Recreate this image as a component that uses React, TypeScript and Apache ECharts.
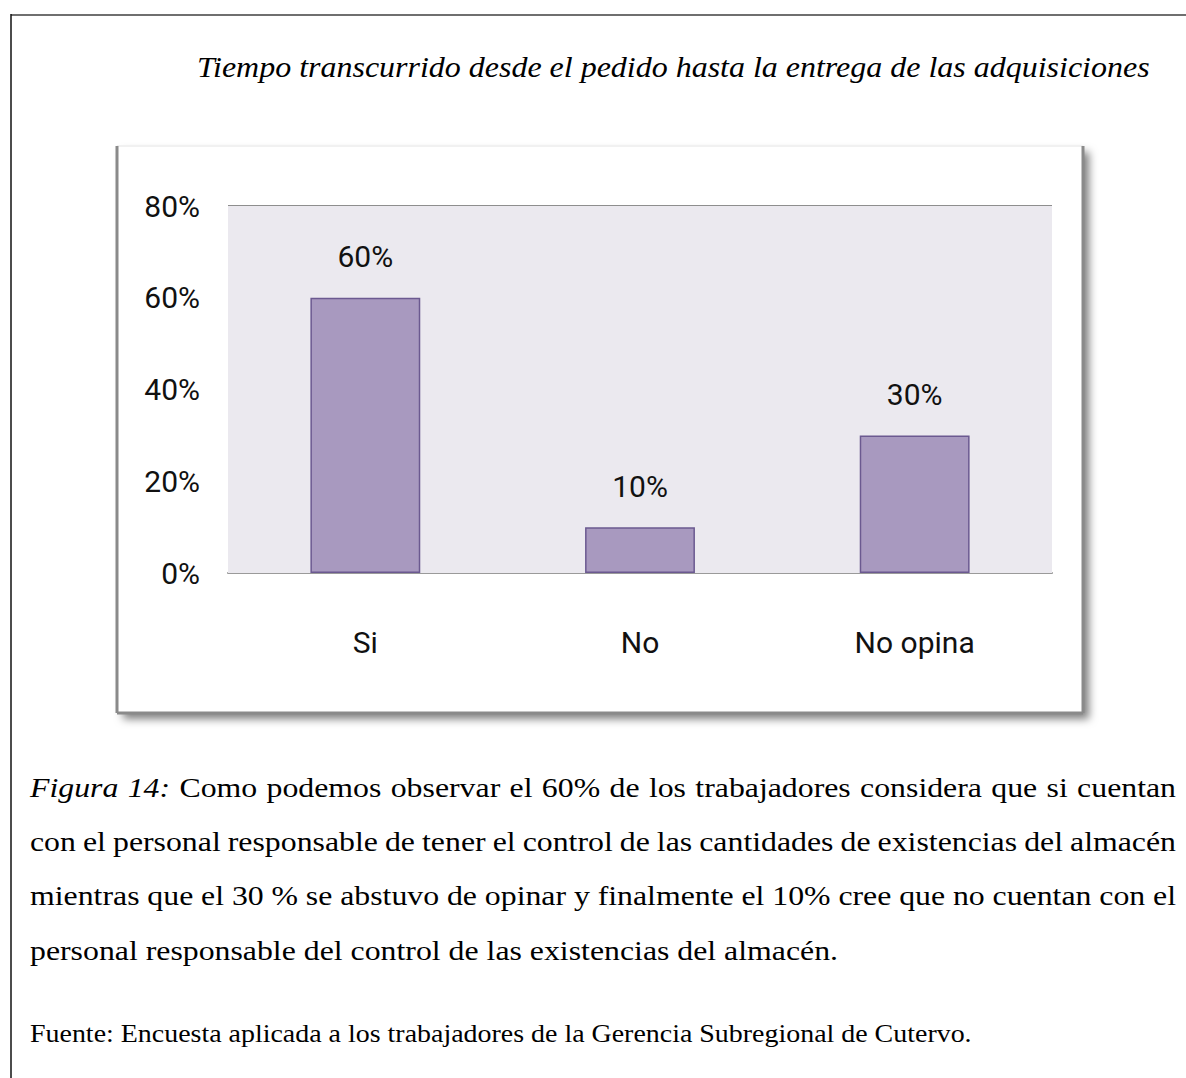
import React, { useEffect, useRef } from "react";
import * as echarts from "echarts";

const categories = ["Si", "No", "No opina"];
const values = [0.6, 0.1, 0.3];
const yMin = 0;
const yMax = 0.8;
const yInterval = 0.2;

const titleText = "Tiempo transcurrido desde el pedido hasta la entrega de las adquisiciones";
const captionLines: { text: string; italic?: boolean }[][] = [
  [
    { text: "Figura", italic: true },
    { text: "14:", italic: true },
    ...("Como podemos observar el 60% de los trabajadores considera que si cuentan".split(" ").map((t) => ({ text: t }))),
  ],
  "con el personal responsable de tener el control de las cantidades de existencias del almacén".split(" ").map((t) => ({ text: t })),
  "mientras que el 30 % se abstuvo de opinar y finalmente el 10% cree que no cuentan con el".split(" ").map((t) => ({ text: t })),
  "personal responsable del control de las existencias del almacén.".split(" ").map((t) => ({ text: t })),
];
const sourceText = "Fuente: Encuesta aplicada a los trabajadores de la Gerencia Subregional de Cutervo.";

const SERIF = '"Liberation Serif", "Times New Roman", serif';
const SANS = 'Roboto, "DejaVu Sans Condensed", sans-serif';

export default function App() {
  const ref = useRef<HTMLDivElement>(null);
  useEffect(() => {
    if (!ref.current) return;
    const chart = echarts.init(ref.current, undefined, { renderer: "svg" });

    const canvas = document.createElement("canvas");
    const ctx = canvas.getContext("2d")!;
    const measure = (t: string, size: number, it?: boolean) => {
      ctx.font = `${it ? "italic " : ""}${size}px ${SERIF}`;
      return ctx.measureText(t).width;
    };

    // caption (justified, word by word)
    const capSize = 27;
    const capLeft = 30;
    const capRight = 1176;
    const lastLineTarget = 808;
    const lastLine = captionLines[captionLines.length - 1].map((w) => w.text).join(" ");
    const capScale = lastLineTarget / measure(lastLine, capSize);
    const spaceW = measure(" ", capSize) * capScale;
    const capBottoms = [801, 855, 909, 964];
    const capEls: any[] = [];
    captionLines.forEach((words, li) => {
      const widths = words.map((w) => measure(w.text, capSize, w.italic) * capScale);
      const sum = widths.reduce((a, b) => a + b, 0);
      const justify = li < captionLines.length - 1;
      const gap = justify ? (capRight - capLeft - sum) / (words.length - 1) : spaceW;
      let x = capLeft;
      words.forEach((w, i) => {
        capEls.push({
          type: "text",
          x,
          y: capBottoms[li],
          scaleX: capScale,
          z: 10,
          style: {
            text: w.text,
            fontSize: capSize,
            fontFamily: SERIF,
            fontStyle: w.italic ? "italic" : "normal",
            fill: "#000",
            verticalAlign: "bottom",
            align: "left",
          },
        });
        x += widths[i] + gap;
      });
    });

    const titleSize = 29;
    const titleScale = 953 / measure(titleText, titleSize, true);
    const srcSize = 25;
    const srcScale = 942 / measure(sourceText, srcSize);

    const boxL = 117, boxT = 146, boxR = 1083, boxB = 713;

    chart.setOption({
      animation: false,
      backgroundColor: "#ffffff",
      grid: {
        left: 228,
        right: 1186 - 1052,
        top: 206,
        bottom: 1078 - 573,
        show: true,
        backgroundColor: "#EBE9EF",
        borderWidth: 0,
        z: 2,
      },
      xAxis: {
        type: "category",
        data: categories,
        axisLine: { show: true, lineStyle: { color: "#9a9a9a", width: 2 } },
        axisTick: { show: false },
        axisLabel: { margin: 54, fontSize: 30, fontFamily: SANS, color: "#111" },
      },
      yAxis: {
        type: "value",
        min: yMin,
        max: yMax,
        interval: yInterval,
        axisLine: { show: false },
        axisTick: { show: false },
        splitLine: { show: true, lineStyle: { color: "#8E8E8E", width: 2 } },
        axisLabel: {
          margin: 28,
          fontSize: 30,
          fontFamily: SANS,
          color: "#111",
          formatter: (v: number) => `${Math.round(v * 100)}%`,
        },
      },
      series: [
        {
          type: "bar",
          data: values,
          barWidth: "40%",
          z: 3,
          itemStyle: { color: "#A899BF", borderColor: "#6B5990", borderWidth: 1.5 },
          label: {
            show: true,
            position: "top",
            distance: 26,
            fontSize: 30,
            fontFamily: SANS,
            color: "#111",
            formatter: (p: any) => `${Math.round(p.value * 100)}%`,
          },
        },
      ],
      graphic: [
        // outer page frame
        { type: "line", z: 1, shape: { x1: 11, y1: 15, x2: 1186, y2: 15 }, style: { stroke: "#6f6f6f", lineWidth: 2 } },
        { type: "line", z: 1, shape: { x1: 11, y1: 14, x2: 11, y2: 1078 }, style: { stroke: "#111", lineWidth: 1.5 } },
        // chart box with shadow
        {
          type: "rect",
          z: -1,
          shape: { x: boxL, y: boxT, width: boxR - boxL, height: boxB - boxT },
          style: {
            fill: "#ffffff",
            shadowBlur: 8,
            shadowOffsetX: 6,
            shadowOffsetY: 6,
            shadowColor: "rgba(0,0,0,0.5)",
          },
        },
        { type: "line", z: 1, shape: { x1: boxL, y1: boxT, x2: boxR, y2: boxT }, style: { stroke: "#f1f1f1", lineWidth: 2 } },
        { type: "line", z: 1, shape: { x1: boxL, y1: boxT, x2: boxL, y2: boxB }, style: { stroke: "#8a8a8a", lineWidth: 3 } },
        { type: "line", z: 1, shape: { x1: boxL, y1: boxB, x2: boxR, y2: boxB }, style: { stroke: "#8a8a8a", lineWidth: 3 } },
        { type: "line", z: 1, shape: { x1: boxR, y1: boxT, x2: boxR, y2: boxB }, style: { stroke: "#8a8a8a", lineWidth: 3 } },
        // title
        {
          type: "text",
          x: 197,
          y: 82,
          scaleX: titleScale,
          z: 10,
          style: {
            text: titleText,
            fontSize: titleSize,
            fontFamily: SERIF,
            fontStyle: "italic",
            fill: "#000",
            verticalAlign: "bottom",
            align: "left",
          },
        },
        ...capEls,
        {
          type: "text",
          x: 30,
          y: 1046,
          scaleX: srcScale,
          z: 10,
          style: {
            text: sourceText,
            fontSize: srcSize,
            fontFamily: SERIF,
            fill: "#000",
            verticalAlign: "bottom",
            align: "left",
          },
        },
      ],
    });
    return () => chart.dispose();
  }, []);
  return (
    <div
      ref={ref}
      style={{ position: "fixed", left: 0, top: 0, width: 1186, height: 1078, background: "#fff" }}
    />
  );
}
